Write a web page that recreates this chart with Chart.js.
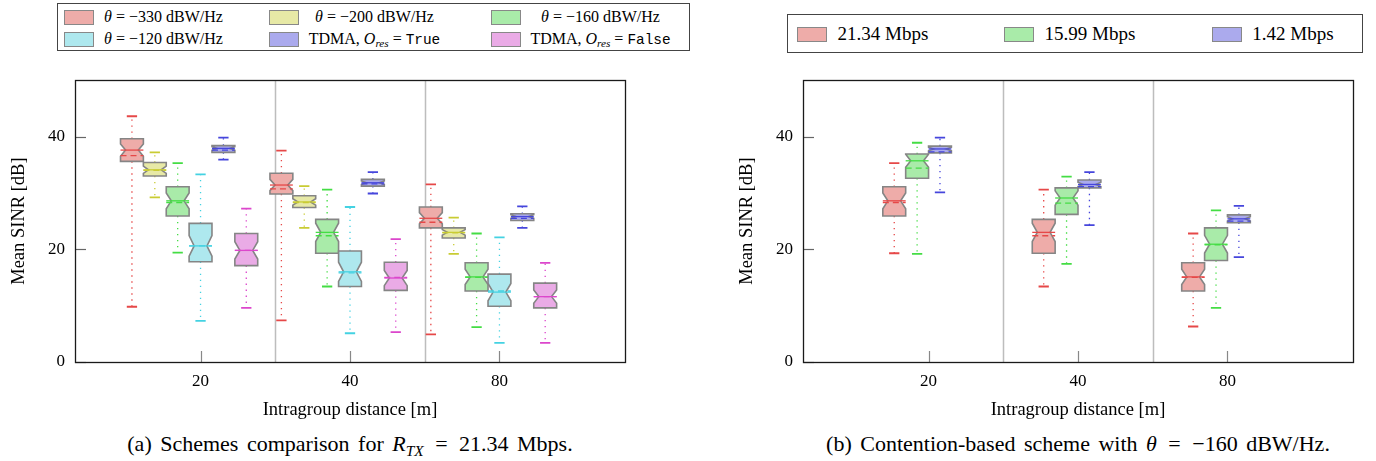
<!DOCTYPE html>
<html>
<head>
<meta charset="utf-8">
<script src="https://cdn.jsdelivr.net/npm/chart.js@4.4.1/dist/chart.umd.min.js"></script>
<style>
  html, body { margin: 0; padding: 0; background: #fff; }
  body { width: 1376px; height: 461px; position: relative; overflow: hidden; font-family: "Liberation Serif", "DejaVu Serif", serif; color: #000; }
  .plot { position: absolute; top: 60px; height: 364px; }
  #wrapA { left: 0; width: 650px; }
  #wrapB { left: 728px; width: 648px; }
  .legend { position: absolute; border: 1px solid #444; box-sizing: border-box; background: #fff; }
  .sw { position: absolute; width: 30px; height: 15px; border: 1px solid #888; box-sizing: border-box; }
  .lbl { position: absolute; text-align: center; white-space: nowrap; line-height: 20px; }
  .caption { position: absolute; top: 431px; width: 640px; font-size: 22px; word-spacing: 3px; text-align: center; white-space: nowrap; }
  .eq { margin: 0 3px; }
  .mono { font-family: "Liberation Mono", monospace; font-size: 0.9em; }
  sub { font-size: 0.7em; vertical-align: -0.3em; }
</style>
</head>
<body>
<div id="legendA" class="legend" style="left:57px; top:3px; width:633px; height:48px; font-size:16px;"></div>
<div id="legendB" class="legend" style="left:787px; top:14px; width:576px; height:39px; font-size:19px;"></div>
<div class="plot" id="wrapA"><canvas id="chartA"></canvas></div>
<div class="plot" id="wrapB"><canvas id="chartB"></canvas></div>
<div class="caption" style="left:30px;">(a) Schemes comparison for <i>R</i><sub><i>TX</i></sub> <span class="eq">=</span> 21.34 Mbps.</div>
<div class="caption" style="left:758px;">(b) Contention-based scheme with <i>θ</i> <span class="eq">=</span> −160 dBW/Hz.</div>
<script>
// categories and ticks
var distances = ['20', '40', '80'];
var yTicks = [0, 20, 40];

// each entry: [lower whisker, Q1, median, Q3, upper whisker] per distance
var theta330 = [[9.8, 35.6, 37.6, 39.6, 43.6], [7.4, 29.8, 31.4, 33.5, 37.5], [4.9, 23.8, 25.5, 27.5, 31.5]];
var theta200 = [[29.2, 33.0, 34.1, 35.4, 37.2], [23.8, 27.4, 28.4, 29.5, 31.2], [19.2, 22.0, 23.0, 23.8, 25.6]];
var theta160 = [[19.4, 25.9, 28.6, 31.1, 35.3], [13.4, 19.3, 23.0, 25.3, 30.6], [6.2, 12.6, 15.1, 17.6, 22.8]];
var theta120 = [[7.3, 17.8, 20.6, 24.6, 33.3], [5.1, 13.4, 16.0, 19.7, 27.5], [3.4, 9.9, 12.4, 15.6, 22.1]];
var tdmaTrue = [[35.9, 37.2, 37.9, 38.4, 39.8], [29.9, 31.2, 31.8, 32.4, 33.7], [23.8, 25.1, 25.8, 26.3, 27.6]];
var tdmaFalse = [[9.6, 17.1, 19.8, 22.8, 27.2], [5.3, 12.7, 14.9, 17.7, 21.8], [3.4, 9.6, 11.6, 14.0, 17.6]];

var rate2134 = [[19.3, 25.9, 28.6, 31.1, 35.3], [13.4, 19.3, 23.0, 25.3, 30.6], [6.3, 12.6, 15.1, 17.6, 22.8]];
var rate1599 = [[19.2, 32.6, 35.7, 36.9, 38.9], [17.4, 26.2, 29.1, 30.9, 32.9], [9.6, 18.0, 20.9, 23.8, 26.9]];
var rate142 = [[30.1, 37.1, 37.8, 38.3, 39.8], [24.3, 30.9, 31.5, 32.3, 33.7], [18.6, 24.7, 25.4, 26.1, 27.7]];

// means per distance
var theta330Mean = [36.6, 30.7, 24.8];
var theta200Mean = [34.0, 28.3, 22.9];
var theta160Mean = [28.3, 22.4, 15.0];
var theta120Mean = [20.6, 15.8, 12.6];
var tdmaTrueMean = [37.6, 31.6, 25.5];
var tdmaFalseMean = [19.8, 15.0, 11.6];
var rate2134Mean = [28.3, 22.4, 15.0];
var rate1599Mean = [34.4, 28.2, 20.8];
var rate142Mean = [37.3, 31.1, 25.0];

var labelsA = ['<i>θ</i> = −330 dBW/Hz', '<i>θ</i> = −200 dBW/Hz', '<i>θ</i> = −160 dBW/Hz',
    '<i>θ</i> = −120 dBW/Hz', 'TDMA, <i>O</i><sub><i>res</i></sub> = <span class="mono">True</span>',
    'TDMA, <i>O</i><sub><i>res</i></sub> = <span class="mono">False</span>'];
var labelsB = ['21.34 Mbps', '15.99 Mbps', '1.42 Mbps'];

var C = {
    red: { line: '#e64848', fill: '#eeaca9' },
    yellow: { line: '#c9cc33', fill: '#e7e9a6' },
    green: { line: '#44dd44', fill: '#a9eba9' },
    cyan: { line: '#44d2e2', fill: '#aee8ee' },
    blue: { line: '#4646dc', fill: '#abaaed' },
    magenta: { line: '#dc46cc', fill: '#eaabe6' }
};
var FONT = '"Liberation Serif", "DejaVu Serif", serif';
var BOX_W = 0.153;

function seriesList(stats, means, colors) {
    var n = stats.length;
    return stats.map(function(s, i) {
        var off = (i - n / 2) * BOX_W;
        return {
            data: s.map(function(v, g) { return { x: g + 1 + off, y: v[2] }; }),
            stats: s, means: means[i], offset: off, color: colors[i],
            pointRadius: 0, pointHoverRadius: 0, showLine: false
        };
    });
}

var boxplot = {
    id: 'boxplot',
    beforeDatasetsDraw: function(chart) {
        var ctx = chart.ctx, a = chart.chartArea, x = chart.scales.x;
        ctx.save();
        ctx.strokeStyle = '#bdbdbd';
        ctx.lineWidth = 1.5;
        for (var k = 1; k < distances.length; k++) {
            var px = Math.round(x.getPixelForValue(k + 0.5)) + 0.5;
            ctx.beginPath(); ctx.moveTo(px, a.top); ctx.lineTo(px, a.bottom); ctx.stroke();
        }
        ctx.strokeStyle = '#888';
        ctx.lineWidth = 1.2;
        x.ticks.forEach(function(t) {
            var px = Math.round(x.getPixelForValue(t.value)) + 0.5;
            ctx.beginPath(); ctx.moveTo(px, a.bottom); ctx.lineTo(px, a.bottom - 11); ctx.stroke();
        });
        ctx.restore();
    },
    afterDatasetsDraw: function(chart) {
        var ctx = chart.ctx, x = chart.scales.x, y = chart.scales.y;
        var hw = (x.getPixelForValue(BOX_W) - x.getPixelForValue(0)) / 2;
        ctx.save();
        chart.data.datasets.forEach(function(ds) {
            ds.stats.forEach(function(s, g) {
                var cx = x.getPixelForValue(g + 1 + ds.offset);
                var yLo = y.getPixelForValue(s[0]), yQ1 = y.getPixelForValue(s[1]);
                var yMed = y.getPixelForValue(s[2]), yQ3 = y.getPixelForValue(s[3]);
                var yHi = y.getPixelForValue(s[4]), yMean = y.getPixelForValue(ds.means[g]);
                var nh = 0.27 * (s[3] - s[1]);
                var yNT = y.getPixelForValue(Math.min(s[2] + nh, s[3]));
                var yNB = y.getPixelForValue(Math.max(s[2] - nh, s[1]));
                var ind = hw * 0.44;
                // whiskers
                ctx.strokeStyle = ds.color.line;
                ctx.lineWidth = 1.3;
                ctx.setLineDash([1.3, 4.7]);
                ctx.beginPath();
                ctx.moveTo(cx, yQ3); ctx.lineTo(cx, yHi);
                ctx.moveTo(cx, yQ1); ctx.lineTo(cx, yLo);
                ctx.stroke();
                ctx.setLineDash([]);
                ctx.lineWidth = 1.8;
                ctx.beginPath();
                ctx.moveTo(cx - hw * 0.45, yHi); ctx.lineTo(cx + hw * 0.45, yHi);
                ctx.moveTo(cx - hw * 0.45, yLo); ctx.lineTo(cx + hw * 0.45, yLo);
                ctx.stroke();
                // notched box
                ctx.beginPath();
                ctx.moveTo(cx - hw, yQ3); ctx.lineTo(cx + hw, yQ3); ctx.lineTo(cx + hw, yNT);
                ctx.lineTo(cx + hw - ind, yMed); ctx.lineTo(cx + hw, yNB); ctx.lineTo(cx + hw, yQ1);
                ctx.lineTo(cx - hw, yQ1); ctx.lineTo(cx - hw, yNB); ctx.lineTo(cx - hw + ind, yMed);
                ctx.lineTo(cx - hw, yNT); ctx.closePath();
                ctx.fillStyle = ds.color.fill;
                ctx.fill();
                ctx.strokeStyle = '#858585';
                ctx.lineWidth = 1.6;
                ctx.stroke();
                // median and mean
                ctx.strokeStyle = ds.color.line;
                ctx.lineWidth = 1.3;
                ctx.beginPath(); ctx.moveTo(cx - hw, yMed); ctx.lineTo(cx + hw, yMed); ctx.stroke();
                ctx.setLineDash([6, 4]);
                ctx.beginPath(); ctx.moveTo(cx - hw, yMean); ctx.lineTo(cx + hw, yMean); ctx.stroke();
                ctx.setLineDash([]);
            });
        });
        ctx.restore();
    },
    afterDraw: function(chart) {
        var ctx = chart.ctx, a = chart.chartArea, y = chart.scales.y;
        ctx.save();
        ctx.strokeStyle = '#666';
        ctx.lineWidth = 1.2;
        y.ticks.forEach(function(t) {
            var py = Math.round(y.getPixelForValue(t.value)) + 0.5;
            ctx.beginPath(); ctx.moveTo(a.left, py); ctx.lineTo(a.left + 11, py); ctx.stroke();
        });
        ctx.strokeStyle = '#1a1a1a';
        ctx.lineWidth = 1.3;
        ctx.strokeRect(Math.round(a.left) + 0.5, Math.round(a.top) + 0.5, Math.round(a.width), Math.round(a.height));
        ctx.restore();
    }
};

function makeChart(id, datasets, padRight) {
    return new Chart(document.getElementById(id), {
        type: 'scatter',
        data: { datasets: datasets },
        options: {
            responsive: true,
            maintainAspectRatio: false,
            animation: false,
            events: [],
            layout: { padding: { top: 10, right: padRight, left: 0, bottom: 0 } },
            plugins: { legend: { display: false }, tooltip: { enabled: false } },
            scales: {
                x: {
                    type: 'linear', min: 0.16, max: 3.84,
                    afterBuildTicks: function(s) { s.ticks = distances.map(function(d, i) { return { value: i + 1 }; }); },
                    afterFit: function(s) { s.height = 62; },
                    grid: { display: false, drawTicks: false },
                    border: { display: false },
                    ticks: { padding: 9, color: '#000', maxRotation: 0, autoSkip: false, font: { family: FONT, size: 17 },
                        callback: function(v) { return distances[Math.round(v) - 1]; } },
                    title: { display: true, text: 'Intragroup distance [m]', color: '#000', padding: { bottom: 3 }, font: { family: FONT, size: 18.5 } }
                },
                y: {
                    min: 0, max: 50,
                    afterBuildTicks: function(s) { s.ticks = yTicks.map(function(v) { return { value: v }; }); },
                    afterFit: function(s) { s.width = 75; },
                    grid: { display: false, drawTicks: false },
                    border: { display: false },
                    ticks: { padding: 10, color: '#000', font: { family: FONT, size: 17 } },
                    title: { display: true, text: 'Mean SINR [dB]', color: '#000', padding: { top: 8 }, font: { family: FONT, size: 18.5 } }
                }
            }
        },
        plugins: [boxplot]
    });
}

function buildLegend(id, labels, colors, swX, txt, rowsY, boxLeft, boxTop) {
    var el = document.getElementById(id);
    var html = '';
    labels.forEach(function(l, i) {
        var col = i % swX.length, row = Math.floor(i / swX.length);
        var cy = rowsY[row] - boxTop;
        html += '<div class="sw" style="left:' + (swX[col] - boxLeft) + 'px; top:' + (cy - 7.5) + 'px; background:' + colors[i].fill + '"></div>';
        html += '<div class="lbl" style="left:' + (txt[col][0] - boxLeft) + 'px; width:' + txt[col][1] + 'px; top:' + (cy - 10) + 'px">' + l + '</div>';
    });
    el.innerHTML = html;
}

var colorsA = [C.red, C.yellow, C.green, C.cyan, C.blue, C.magenta];
var colorsB = [C.red, C.green, C.blue];

buildLegend('legendA', labelsA, colorsA, [63, 268, 490], [[96, 133], [300, 147], [522, 155]], [16, 38], 57, 3);
buildLegend('legendB', labelsB, colorsB, [796, 1003, 1211], [[829, 106], [1036, 106], [1244, 96]], [33], 787, 14);

makeChart('chartA', seriesList([theta330, theta200, theta160, theta120, tdmaTrue, tdmaFalse],
    [theta330Mean, theta200Mean, theta160Mean, theta120Mean, tdmaTrueMean, tdmaFalseMean], colorsA), 25);
makeChart('chartB', seriesList([rate2134, rate1599, rate142], [rate2134Mean, rate1599Mean, rate142Mean], colorsB), 23);
</script>
</body>
</html>
